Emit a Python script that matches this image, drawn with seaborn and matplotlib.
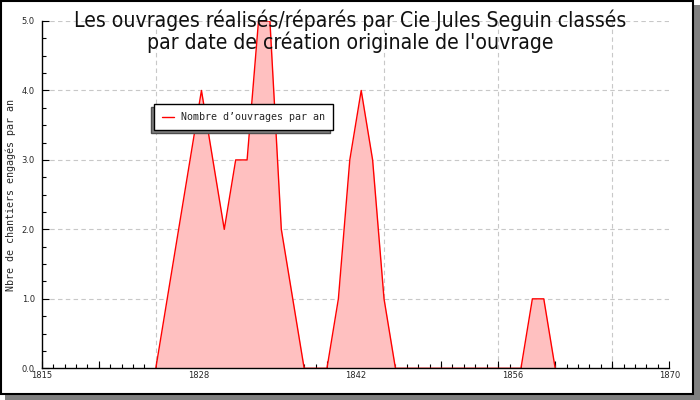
import numpy as np
import pandas as pd
import matplotlib
matplotlib.use("Agg")
import matplotlib.pyplot as plt
import seaborn as sns
from matplotlib.patches import Rectangle
from matplotlib.ticker import MultipleLocator, FixedLocator

# data
years = list(range(1825, 1861))
counts = [0, 1, 2, 3, 4, 3, 2, 3, 3, 5, 5, 2, 1, 0, 0, 0, 1, 3, 4, 3, 1, 0,
          0, 0, 0, 0, 0, 0, 0, 0, 0, 0, 0, 1, 1, 0]
tick_labels = ["1815", "1828", "1842", "1856", "1870"]
grid_years = [1825, 1835, 1845, 1855, 1865]
title_lines = ["Les ouvrages réalisés/réparés par Cie Jules Seguin classés",
               "par date de création originale de l'ouvrage"]
ylabel = "Nbre de chantiers engagés par an"
legend_label = "Nombre d’ouvrages par an"

df = pd.DataFrame({"annee": years, "nombre": counts})

sns.set_style("white")
W, H = 700, 400
fig = plt.figure(figsize=(7, 4), dpi=100)
fig.patch.set_facecolor("white")

# image frame with drop shadow
fig.add_artist(Rectangle((5 / W, 0), 1 - 5 / W, 1 - 5 / H, transform=fig.transFigure,
                         facecolor="#808080", edgecolor="none", zorder=-3))
fig.add_artist(Rectangle((1 / W, 6 / H), 692 / W, 393 / H, transform=fig.transFigure,
                         facecolor="white", edgecolor="black", linewidth=1.5, zorder=-2))

ax = fig.add_axes([41.7 / W, 31.7 / H, 627.6 / W, 347.3 / H])
ax.set_facecolor("none")

ax.fill_between(df["annee"], df["nombre"], 0, color="#ffc0c0", linewidth=0, zorder=1)
sns.lineplot(data=df, x="annee", y="nombre", color="red", linewidth=1,
             label=legend_label, ax=ax, zorder=2)

ax.set_xlim(1815, 1870)
ax.set_ylim(0, 5)

# grid
for g in grid_years:
    ax.axvline(g, color="#c8c8c8", linestyle=(0, (4, 3)), linewidth=0.8, zorder=0)
for g in range(1, 6):
    ax.axhline(g, color="#c8c8c8", linestyle=(0, (4, 3)), linewidth=0.8, zorder=0)

# spines
for s in ["top", "right"]:
    ax.spines[s].set_visible(False)
for s in ["left", "bottom"]:
    ax.spines[s].set_color("black")
    ax.spines[s].set_linewidth(1)
    ax.spines[s].set_zorder(3)

ax.xaxis.set_major_locator(FixedLocator(np.linspace(1815, 1870, len(tick_labels))))
ax.set_xticklabels(tick_labels)
ax.xaxis.set_minor_locator(MultipleLocator(1))
ax.tick_params(axis="x", which="major", bottom=True, length=0, pad=2, labelsize=6)
ax.tick_params(axis="x", which="minor", bottom=True, direction="in", length=3,
               width=0.8, color="black")

sec = ax.secondary_xaxis("bottom")
sec.xaxis.set_major_locator(MultipleLocator(5))
sec.tick_params(bottom=True, direction="in", length=5, width=0.8, labelbottom=False,
                color="black")
sec.spines["bottom"].set_visible(False)

ax.yaxis.set_major_locator(MultipleLocator(1))
ax.yaxis.set_minor_locator(MultipleLocator(0.25))
ax.yaxis.set_major_formatter(lambda v, p: f"{v:.1f}")
ax.tick_params(axis="y", which="major", left=True, direction="in", length=5, width=0.8,
               pad=5, labelsize=6, color="black")
ax.tick_params(axis="y", which="minor", left=True, direction="in", length=3,
               width=0.8, color="black")

ax.set_xlabel("")
ax.set_ylabel(ylabel, family="DejaVu Sans Mono", fontsize=7.2)
ax.yaxis.set_label_coords((16.5 - 41.7) / 627.6, 0.5)

for line, base in zip(title_lines, [26.7, 49.3]):
    fig.text(0.5, 1 - base / H, line, ha="center", va="baseline", fontsize=15.2,
             family="DejaVu Sans", fontstretch="condensed", color="#111111")

leg = ax.legend(loc="upper left", bbox_to_anchor=(154 / W, 1 - 104.3 / H),
                bbox_transform=fig.transFigure, borderaxespad=0, frameon=True,
                fancybox=False,
                shadow={"ox": -2.2, "oy": -2.2, "facecolor": "#808080", "alpha": 1},
                framealpha=1, edgecolor="black", borderpad=0.8, handlelength=1.16,
                handletextpad=0.74, prop={"family": "DejaVu Sans Mono", "size": 7.2})
leg.get_frame().set_linewidth(1)

fig.savefig("out.png", dpi=100)
